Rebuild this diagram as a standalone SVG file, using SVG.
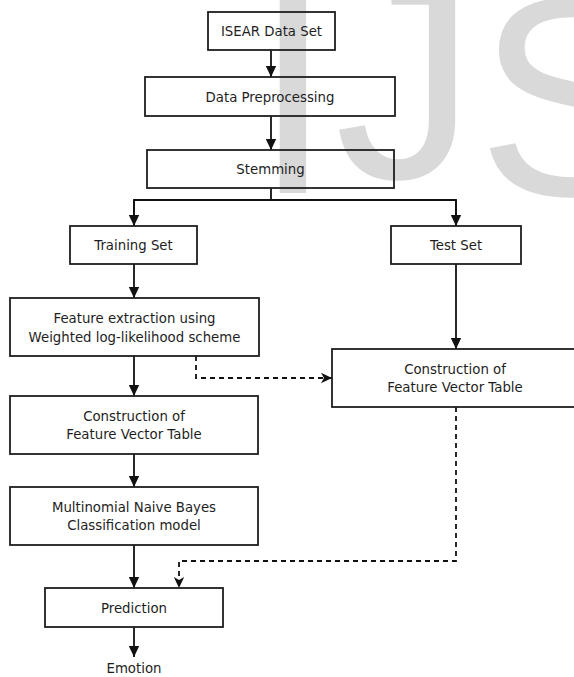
<svg xmlns="http://www.w3.org/2000/svg" width="574" height="677" viewBox="0 0 574 677">
<style>
.wm{font-family:"Liberation Sans",Arial,sans-serif;font-size:283px;fill:#d9d9d9}
.box{fill:none;stroke:#1e1e1e;stroke-width:1.8}
.t{font-family:"DejaVu Sans",Verdana,sans-serif;font-size:13.3px;fill:#1e1e1e;text-anchor:middle}
.c{fill:none;stroke:#111;stroke-width:1.8}
.d{fill:none;stroke:#111;stroke-width:1.8;stroke-dasharray:5 4}
</style>
<defs>
<marker id="ah" markerUnits="userSpaceOnUse" markerWidth="12" markerHeight="12" viewBox="0 0 12 12" refX="11" refY="6" orient="auto">
<path d="M0,0.8 L11,6 L0,11.2 z" fill="#111"/>
</marker>
<marker id="ahd" markerUnits="userSpaceOnUse" markerWidth="12" markerHeight="12" viewBox="0 0 12 12" refX="11" refY="6" orient="auto">
<path d="M0,0.8 L11,6 L0,11.2 L3,6 z" fill="#111"/>
</marker>
</defs>
<g id="watermark">
<text class="wm" x="253.6" y="193">I</text>
<text class="wm" x="334.7" y="178">J</text>
<text class="wm" x="477" y="195">S</text>
</g>
<g id="connectors">
<line class="c" x1="271" y1="50" x2="271" y2="77" marker-end="url(#ah)"/>
<line class="c" x1="271" y1="116" x2="271" y2="150" marker-end="url(#ah)"/>
<polyline class="c" points="271,188 271,200"/>
<polyline class="c" points="134,226 134,200 456,200 456,226"/>
<line class="c" x1="134" y1="200" x2="134" y2="226" marker-end="url(#ah)"/>
<line class="c" x1="456" y1="200" x2="456" y2="226" marker-end="url(#ah)"/>
<line class="c" x1="134" y1="264" x2="134" y2="298" marker-end="url(#ah)"/>
<line class="c" x1="456" y1="264" x2="456" y2="349" marker-end="url(#ah)"/>
<line class="c" x1="134" y1="356" x2="134" y2="396" marker-end="url(#ah)"/>
<polyline class="d" points="196,356 196,378 332,378" marker-end="url(#ahd)"/>
<line class="c" x1="134" y1="454" x2="134" y2="487" marker-end="url(#ah)"/>
<line class="c" x1="134" y1="545" x2="134" y2="588" marker-end="url(#ah)"/>
<polyline class="d" points="456,407 456,561 179,561 179,588" marker-end="url(#ahd)"/>
<line class="c" x1="134" y1="627" x2="134" y2="657" marker-end="url(#ah)"/>
</g>
<g id="isear">
<rect class="box" x="208" y="12" width="127" height="38"/>
<text class="t" x="271.5" y="36">ISEAR Data Set</text>
</g>
<g id="preprocessing">
<rect class="box" x="145" y="77" width="250" height="39"/>
<text class="t" x="270" y="101.5">Data Preprocessing</text>
</g>
<g id="stemming">
<rect class="box" x="147" y="150" width="247" height="38"/>
<text class="t" x="270.5" y="174">Stemming</text>
</g>
<g id="training">
<rect class="box" x="70" y="226" width="127" height="38"/>
<text class="t" x="133.5" y="250">Training Set</text>
</g>
<g id="test">
<rect class="box" x="391" y="226" width="130" height="38"/>
<text class="t" x="456" y="250">Test Set</text>
</g>
<g id="feature-extraction">
<rect class="box" x="10" y="298" width="249" height="58"/>
<text class="t" x="134.5" y="323">Feature extraction using</text>
<text class="t" x="134.5" y="342">Weighted log-likelihood scheme</text>
</g>
<g id="fvt-left">
<rect class="box" x="10" y="396" width="248" height="58"/>
<text class="t" x="134" y="421">Construction of</text>
<text class="t" x="134" y="439">Feature Vector Table</text>
</g>
<g id="fvt-right">
<rect class="box" x="332" y="349" width="250" height="58"/>
<text class="t" x="455" y="374">Construction of</text>
<text class="t" x="455" y="392">Feature Vector Table</text>
</g>
<g id="mnb">
<rect class="box" x="10" y="487" width="248" height="58"/>
<text class="t" x="134" y="512">Multinomial Naive Bayes</text>
<text class="t" x="134" y="530">Classification model</text>
</g>
<g id="prediction">
<rect class="box" x="45" y="588" width="178" height="39"/>
<text class="t" x="134" y="612.5">Prediction</text>
</g>
<g id="emotion">
<text class="t" x="134" y="673">Emotion</text>
</g>
</svg>
